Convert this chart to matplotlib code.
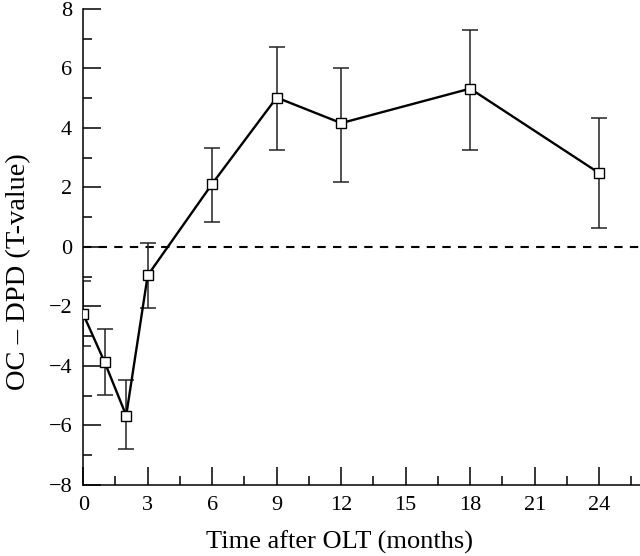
import matplotlib.pyplot as plt
from matplotlib.ticker import MultipleLocator

# datos
months = [0, 1, 2, 3, 6, 9, 12, 18, 24]
t_value = [-2.26, -3.88, -5.67, -0.96, 2.12, 5.02, 4.16, 5.32, 2.48]
err_low = [1.07, 1.09, 1.13, 1.10, 1.27, 1.76, 1.97, 2.08, 1.86]
err_high = [1.12, 1.11, 1.18, 1.10, 1.22, 1.69, 1.85, 1.96, 1.86]

plt.rcParams['font.family'] = ['Liberation Serif', 'DejaVu Serif']

fig = plt.figure(figsize=(6.4, 5.56), dpi=100)
ax = fig.add_axes([0.13, 0.128, 0.87, 0.856])

ax.axhline(0, color='black', lw=1.5, ls=(0, (4, 3.5)))
ax.errorbar(months, t_value, yerr=[err_low, err_high], fmt='none',
            ecolor='#222222', elinewidth=1.1, capsize=6, capthick=1.1)
ax.plot(months, t_value, color='black', lw=1.7, marker='s', ms=7,
        mfc='white', mec='black', mew=1.0, zorder=3)

ax.set_xlim(0, 25.9)
ax.set_ylim(-8, 8)
ax.xaxis.set_major_locator(MultipleLocator(3))
ax.xaxis.set_minor_locator(MultipleLocator(1.5))
ax.yaxis.set_major_locator(MultipleLocator(2))
ax.yaxis.set_minor_locator(MultipleLocator(1))

for s in ['top', 'right']:
    ax.spines[s].set_visible(False)
for s in ['left', 'bottom']:
    ax.spines[s].set_linewidth(1.1)

ax.tick_params(which='major', direction='in', length=13, width=1.1,
               labelsize=16, pad=8)
ax.tick_params(which='minor', direction='in', length=6.5, width=1.1)

ax.set_xlabel('Time after OLT (months)', fontsize=19)
ax.set_ylabel('OC – DPD (T-value)', fontsize=20.5)
ax.xaxis.set_label_coords(0.461, -0.097)
ax.yaxis.set_label_coords(-0.093, 0.447)

fig.savefig('out.png', dpi=100)
